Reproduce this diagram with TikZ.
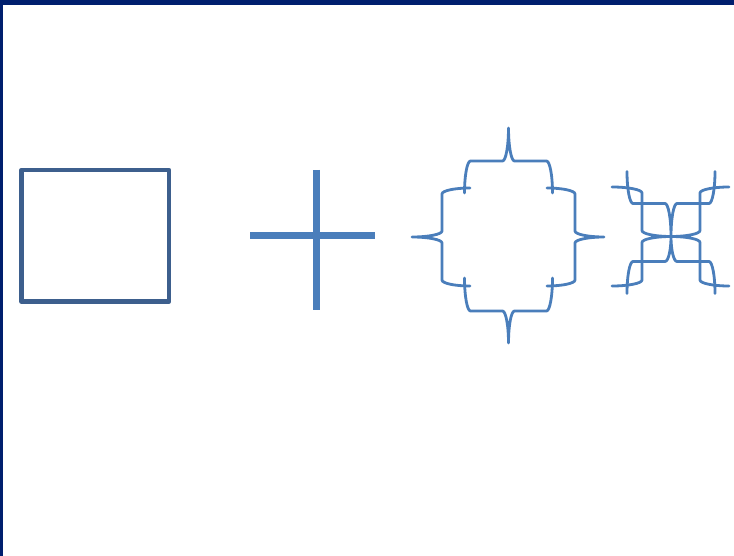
\documentclass[tikz,border=0pt]{standalone}
\usepackage{tikz}
\definecolor{framenavy}{RGB}{0,31,110}
\definecolor{boxblue}{RGB}{61,95,141}
\definecolor{shapeblue}{RGB}{74,126,187}
\tikzset{
  bracestroke/.style={draw=shapeblue, line width=2.8pt, line join=round, line cap=round},
  % curly brace: tip at the origin, ends towards +x
  % #1 = tip-to-base depth, #2 = base-to-end depth, #3 = half length
  pics/curly/.style n args={3}{code={
    \def\ra{6}
    \draw[bracestroke]
      ({#1+#2},#3) .. controls ({#1+0.45*#2},#3) and (#1,{#3-0.45*\ra}) .. (#1,{#3-\ra})
      -- (#1,\ra) .. controls (#1,{0.45*\ra}) and ({0.55*#1},0) .. (0,0)
      .. controls ({0.55*#1},0) and (#1,{-0.45*\ra}) .. (#1,-\ra)
      -- (#1,{-#3+\ra}) .. controls (#1,{-#3+0.45*\ra}) and ({#1+0.45*#2},-#3) .. ({#1+#2},-#3);
  }}
}
\begin{document}
\begin{tikzpicture}[x=1pt,y=-1pt]
  \useasboundingbox (0,0) rectangle (734,556);
  \fill[white] (0,0) rectangle (734,556);
  % slide frame
  \fill[framenavy] (0,0) rectangle (734,5);
  \fill[framenavy] (0,0) rectangle (3,556);

  % square
  \draw[boxblue, line width=4.5pt, line join=round] (21.5,170) rectangle (169,301.5);

  % plus sign
  \draw[shapeblue, line width=7pt] (316.3,170) -- (316.3,310);
  \draw[shapeblue, line width=7pt] (250,235.5) -- (375,235.5);

  % four braces pointing outwards
  \pic[rotate=0]   at (412,237)   {curly={30}{28}{49}};
  \pic[rotate=180] at (604,237)   {curly={29}{28}{49}};
  \pic[rotate=-90] at (508.5,128) {curly={33}{32}{44}};
  \pic[rotate=90]  at (508.5,343) {curly={32}{33}{44}};

  % four braces pointing inwards
  \pic[rotate=180] at (671,236.5) {curly={29}{30}{49.5}};
  \pic[rotate=0]   at (671,236.5) {curly={29}{29}{49.5}};
  \pic[rotate=90]  at (671,236.5) {curly={33}{32}{44}};
  \pic[rotate=-90] at (671,236.5) {curly={25}{32}{44}};
\end{tikzpicture}
\end{document}
